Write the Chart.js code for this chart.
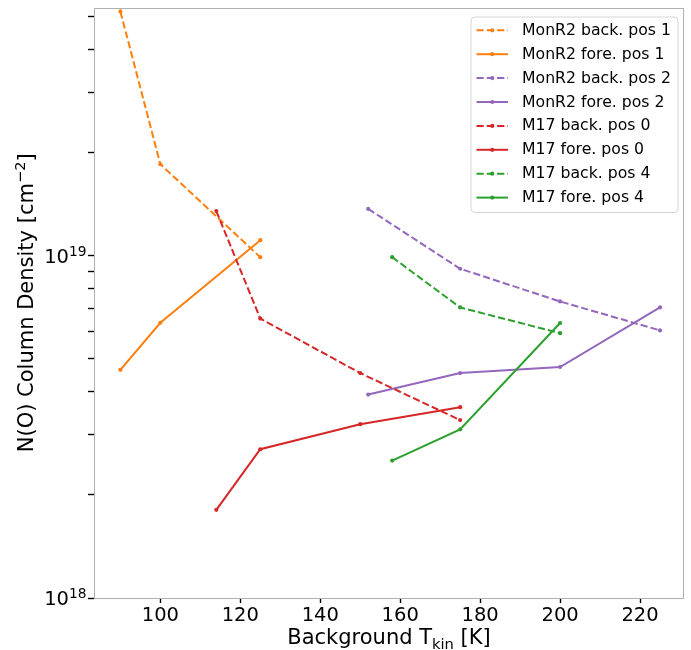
<!DOCTYPE html>
<html><head><meta charset="utf-8">
<script src="https://cdn.jsdelivr.net/npm/chart.js@4.4.1/dist/chart.umd.min.js"></script>
<style>html,body{margin:0;padding:0;background:#fff;}</style>
</head><body>
<canvas id="c" width="691" height="650"></canvas>
<script>
// ---- data ----
const monr2Temps1 = [90, 100, 125];
const monr2Back1  = [5.17e19, 1.85e19, 9.9e18];
const monr2Fore1  = [4.64e18, 6.37e18, 1.11e19];
const monr2Temps2 = [152, 175, 200, 225];
const monr2Back2  = [1.37e19, 9.16e18, 7.35e18, 6.05e18];
const monr2Fore2  = [3.93e18, 4.54e18, 4.73e18, 7.06e18];
const m17Temps0   = [114, 125, 150, 175];
const m17Back0    = [1.35e19, 6.55e18, 4.54e18, 3.31e18];
const m17Fore0    = [1.81e18, 2.72e18, 3.22e18, 3.61e18];
const m17Temps4   = [158, 175, 200];
const m17Back4    = [9.9e18, 7.06e18, 5.94e18];
const m17Fore4    = [2.52e18, 3.11e18, 6.36e18];

const seriesLabels = ["MonR2 back. pos 1","MonR2 fore. pos 1","MonR2 back. pos 2","MonR2 fore. pos 2",
                      "M17 back. pos 0","M17 fore. pos 0","M17 back. pos 4","M17 fore. pos 4"];
const xTickValues = [100, 120, 140, 160, 180, 200, 220];
const yTickValues = [1e18,2e18,3e18,4e18,5e18,6e18,7e18,8e18,9e18,1e19,2e19,3e19,4e19,5e19];
const yMajorExponents = [18, 19];
const xTitle = ["Background T", "kin", " [K]"];
const yTitle = ["N(O) Column Density [cm", "\u22122", "]"];

// ---- styles ----
const FONT = "DejaVu Sans";
const C_ORANGE = "#ff7f0e", C_PURPLE = "#9467bd", C_RED = "#d62728", C_GREEN = "#2ca02c";
const DASH = [7.2, 3.1];

function pts(xs, ys){ return xs.map((x,i)=>({x:x, y:ys[i]})); }
const seriesDefs = [
  [monr2Temps1, monr2Back1, C_ORANGE, true],
  [monr2Temps1, monr2Fore1, C_ORANGE, false],
  [monr2Temps2, monr2Back2, C_PURPLE, true],
  [monr2Temps2, monr2Fore2, C_PURPLE, false],
  [m17Temps0, m17Back0, C_RED, true],
  [m17Temps0, m17Fore0, C_RED, false],
  [m17Temps4, m17Back4, C_GREEN, true],
  [m17Temps4, m17Fore4, C_GREEN, false],
];
const datasets = seriesDefs.map((d,i)=>({
  label: seriesLabels[i],
  data: pts(d[0], d[1]),
  borderColor: d[2],
  backgroundColor: d[2],
  borderWidth: 2,
  borderDash: d[3] ? DASH : [],
  pointRadius: 2.1,
  pointBorderWidth: 0,
  pointBackgroundColor: d[2],
  tension: 0,
  fill: false,
  order: seriesDefs.length - i
}));

const framePlugin = {
  id: 'frame',
  afterDatasetsDraw(chart){
    const a = chart.chartArea, ctx = chart.ctx;
    ctx.save();
    ctx.strokeStyle = '#b0b0b0'; ctx.lineWidth = 1;
    ctx.strokeRect(Math.round(a.left)+0.5, Math.round(a.top)+0.5, Math.round(a.right-a.left)-1, Math.round(a.bottom-a.top)-1);
    ctx.restore();
  }
};

function drawPieces(ctx, pieces, sizes, shifts){
  let x = 0;
  for (let i=0;i<pieces.length;i++){
    ctx.font = sizes[i] + 'px "' + FONT + '"';
    ctx.fillText(pieces[i], x, shifts[i]);
    x += ctx.measureText(pieces[i]).width;
  }
}
function piecesWidth(ctx, pieces, sizes){
  let w = 0;
  for (let i=0;i<pieces.length;i++){ ctx.font = sizes[i] + 'px "' + FONT + '"'; w += ctx.measureText(pieces[i]).width; }
  return w;
}

const titlesPlugin = {
  id: 'titles',
  afterDraw(chart){
    const a = chart.chartArea, ctx = chart.ctx;
    ctx.save();
    ctx.fillStyle = '#000'; ctx.textBaseline = 'alphabetic'; ctx.textAlign = 'left';
    // y major tick labels: 10 with superscript exponent
    const ys = chart.scales.y;
    yMajorExponents.forEach(e => {
      const py = ys.getPixelForValue(Math.pow(10, e));
      const pieces = ["10", String(e)], sz = [19.5, 13.8], sh = [0, -6.8];
      const w = piecesWidth(ctx, pieces, sz);
      ctx.save();
      ctx.translate(a.left - 7.5 - w, py + 7.2);
      drawPieces(ctx, pieces, sz, sh);
      ctx.restore();
    });
    // x title
    let sizes = [21, 14.7, 21], shifts = [0, 4.5, 0];
    let w = piecesWidth(ctx, xTitle, sizes);
    ctx.save();
    ctx.translate((a.left + a.right)/2 - w/2, 644);
    drawPieces(ctx, xTitle, sizes, shifts);
    ctx.restore();
    // y title
    sizes = [21, 14.7, 21]; shifts = [0, -8.5, 0];
    w = piecesWidth(ctx, yTitle, sizes);
    ctx.save();
    ctx.translate(33, (a.top + a.bottom)/2);
    ctx.rotate(-Math.PI/2);
    ctx.translate(-w/2, 0);
    drawPieces(ctx, yTitle, sizes, shifts);
    ctx.restore();
    ctx.restore();
  }
};

const legendPlugin = {
  id: 'innerLegend',
  afterDraw(chart){
    const a = chart.chartArea, ctx = chart.ctx;
    const right = a.right - 6, top = a.top + 9.5, bw = 207, bh = 195.5, r = 4;
    const left = right - bw;
    ctx.save();
    ctx.beginPath();
    ctx.moveTo(left + r, top);
    ctx.arcTo(right, top, right, top + bh, r);
    ctx.arcTo(right, top + bh, left, top + bh, r);
    ctx.arcTo(left, top + bh, left, top, r);
    ctx.arcTo(left, top, right, top, r);
    ctx.closePath();
    ctx.fillStyle = 'rgba(255,255,255,0.8)';
    ctx.fill();
    ctx.strokeStyle = '#d5d5d5'; ctx.lineWidth = 1;
    ctx.stroke();
    chart.data.datasets.forEach((ds, i) => {
      const y = top + 13.3 + 23.9 * i;
      const x0 = left + 5.5, x1 = left + 37;
      ctx.strokeStyle = ds.borderColor; ctx.lineWidth = ds.borderWidth;
      ctx.setLineDash(ds.borderDash || []);
      ctx.beginPath(); ctx.moveTo(x0, y); ctx.lineTo(x1, y); ctx.stroke();
      ctx.setLineDash([]);
      ctx.fillStyle = ds.borderColor;
      ctx.beginPath(); ctx.arc((x0 + x1)/2, y, 2.1, 0, Math.PI*2); ctx.fill();
      ctx.fillStyle = '#000';
      ctx.font = '15.7px "' + FONT + '"';
      ctx.textBaseline = 'middle'; ctx.textAlign = 'left';
      ctx.fillText(ds.label, left + 51, y + 0.5);
    });
    ctx.restore();
  }
};

new Chart(document.getElementById('c'), {
  type: 'line',
  data: { datasets: datasets },
  options: {
    responsive: false,
    animation: false,
    devicePixelRatio: 1,
    layout: { padding: { top: 7.5, right: 7, left: 0, bottom: 0 } },
    plugins: { legend: { display: false }, tooltip: { enabled: false } },
    scales: {
      x: {
        type: 'linear', min: 83.4, max: 231.0,
        afterBuildTicks: s => { s.ticks = xTickValues.map(v => ({ value: v })); },
        afterFit: s => { s.height = 52; },
        grid: { drawOnChartArea: false, drawTicks: true, tickLength: 5, tickColor: '#000', tickWidth: 1.4 },
        border: { display: false },
        ticks: { font: { family: FONT, size: 19.5 }, color: '#000', padding: 1, maxRotation: 0, autoSkip: false }
      },
      y: {
        type: 'logarithmic', min: 1e18, max: 5.31e19,
        afterBuildTicks: s => { s.ticks = yTickValues.map(v => ({ value: v })); },
        afterFit: s => { s.width = 94; s.paddingTop = 0; s.paddingBottom = 0; },
        grid: { drawOnChartArea: false, drawTicks: true, tickLength: 6, tickColor: '#000', tickWidth: 1.4 },
        border: { display: false },
        ticks: { display: true, font: { family: FONT, size: 1, lineHeight: 1 }, color: '#000', padding: 1, autoSkip: false, callback: () => '' }
      }
    }
  },
  plugins: [framePlugin, titlesPlugin, legendPlugin]
});
</script>
</body></html>
